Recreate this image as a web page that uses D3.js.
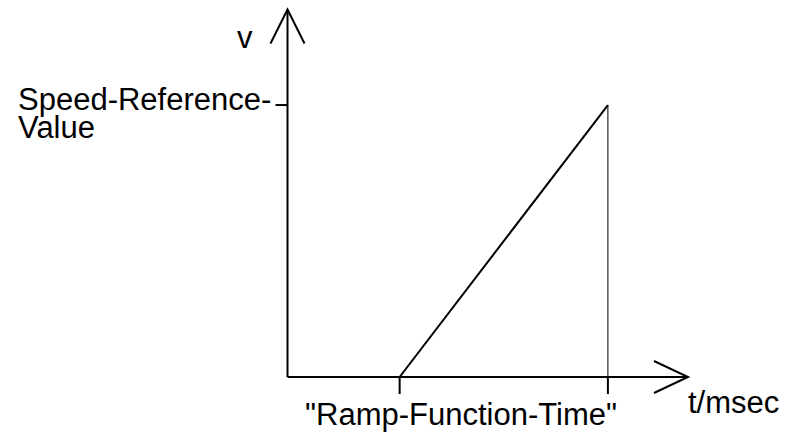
<!DOCTYPE html>
<html>
<head>
<meta charset="utf-8">
<script src="https://cdn.jsdelivr.net/npm/d3@7"></script>
<style>
  body { margin: 0; background: #fff; }
  text { font-family: "Liberation Sans", Arial, sans-serif; font-size: 31px; fill: #000; }
</style>
</head>
<body>
<div id="vis"></div>
<script>
// Ramp: speed goes from 0 up to the reference value over the ramp time
const rampT = [28, 80];
const rampV = [0, 74];
const xTickValues = [28, 80];
const yTickValues = [74];
const yTickLabels = ["Speed-Reference-", "Value"];
const xTickLabel = "\"Ramp-Function-Time\"";
const xAxisLabel = "t/msec", yAxisLabel = "v";

const width = 787, height = 435;

const svg = d3.select("#vis")
    .append("svg")
    .attr("width", width)
    .attr("height", height);

var x = d3.scaleLinear().domain([0, 100]).range([287.5, 688]);
var y = d3.scaleLinear().domain([0, 100]).range([377, 9.5]);

const g = svg.append("g").attr("stroke", "#000").attr("fill", "none");

// axes
g.append("line").attr("x1", x(0)).attr("x2", x(100)).attr("y1", y(0)).attr("y2", y(0)).attr("stroke-width", 2);
g.append("line").attr("x1", x(0)).attr("x2", x(0)).attr("y1", y(0)).attr("y2", y(100)).attr("stroke-width", 2);

// arrow heads
g.append("path")
    .attr("d", `M${x(100) - 34},${y(0) - 16} L${x(100)},${y(0)} L${x(100) - 34},${y(0) + 16}`)
    .attr("stroke-width", 2);
g.append("path")
    .attr("d", `M${x(0) - 17},${y(100) + 34} L${x(0)},${y(100)} L${x(0) + 17},${y(100) + 34}`)
    .attr("stroke-width", 2);

// ticks
xTickValues.forEach(t => {
    g.append("line").attr("x1", x(t)).attr("x2", x(t)).attr("y1", y(0)).attr("y2", y(0) + 17).attr("stroke-width", 2);
});
yTickValues.forEach(v => {
    g.append("line").attr("x1", x(0) - 12).attr("x2", x(0)).attr("y1", y(v)).attr("y2", y(v)).attr("stroke-width", 2);
});

// thin drop line from end of ramp
g.append("line")
    .attr("x1", x(rampT[1])).attr("x2", x(rampT[1]))
    .attr("y1", y(rampV[1])).attr("y2", y(0))
    .attr("stroke-width", 1);

// ramp
const line = d3.line().x((d, i) => x(rampT[i])).y(d => y(d));
g.append("path").attr("d", line(rampV)).attr("stroke-width", 2);

// labels
svg.append("text").attr("x", 237).attr("y", 48).text(yAxisLabel);
svg.append("text").attr("x", 688).attr("y", 413).text(xAxisLabel);
svg.append("text").attr("x", 305).attr("y", 425).text(xTickLabel);
const refLabel = svg.append("text").attr("x", 18).attr("y", 110);
yTickLabels.forEach((s, i) => {
    refLabel.append("tspan").attr("x", 18).attr("dy", i ? 28 : 0).text(s);
});
</script>
</body>
</html>
